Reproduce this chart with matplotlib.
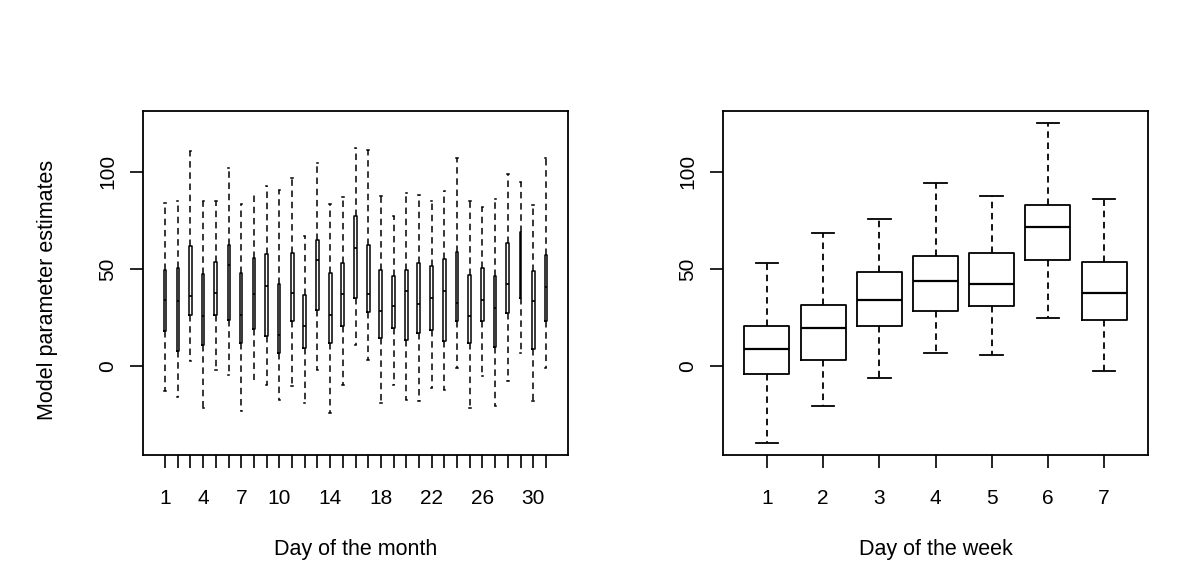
import matplotlib
matplotlib.use("Agg")
import matplotlib.pyplot as plt

plt.rcParams['font.family'] = ['Liberation Sans', 'DejaVu Sans']

# ---- Day of the month (31 groups) ----
month_days = list(range(1, 32))
month_labels = ["1", "", "", "4", "", "", "7", "", "", "10", "", "", "", "14", "", "", "",
                "18", "", "", "", "22", "", "", "", "26", "", "", "", "30", ""]
m_whishi = [84.1, 85.2, 110.8, 85.2, 85.2, 102.2, 83.3, 89.2, 92.6, 90.9,
            96.6, 67.0, 104.6, 83.3, 86.9, 112.3, 111.5, 87.6, 77.3, 89.2,
            88.0, 85.2, 90.3, 107.3, 85.2, 81.7, 85.8, 98.8, 94.9, 83.0, 107.3]
m_q3 = [49.6, 50.8, 61.9, 47.4, 53.9, 62.4, 48.2, 55.9, 57.6, 42.4,
        58.1, 36.7, 64.9, 48.2, 53.0, 77.3, 62.4, 49.6, 46.2, 49.6,
        53.3, 51.6, 55.0, 58.6, 47.2, 50.4, 46.2, 63.6, 69.2, 48.8, 57.3]
m_med = [34.2, 33.7, 36.2, 26.0, 37.9, 52.1, 26.5, 37.0, 41.4, 16.2,
         37.9, 20.9, 54.6, 26.5, 37.1, 61.0, 37.1, 28.5, 30.8, 38.5,
         32.0, 35.1, 38.5, 32.5, 25.8, 34.2, 30.0, 42.2, 50.0, 33.4, 41.0]
m_q1 = [18.3, 7.7, 26.5, 11.1, 26.5, 24.0, 11.9, 19.1, 15.4, 6.8,
        23.4, 9.4, 29.0, 11.9, 20.9, 35.1, 27.7, 14.5, 19.7, 13.7,
        17.1, 18.9, 12.8, 23.4, 11.9, 23.4, 9.9, 27.4, 35.1, 9.0, 23.4]
m_whislo = [-12.8, -15.7, 2.6, -21.4, -1.7, -4.3, -23.0, -6.9, -9.4, -17.1,
            -10.3, -18.9, -1.7, -23.9, -9.4, 11.2, 3.4, -18.9, -9.4, -17.1,
            -18.0, -11.1, -12.0, -0.8, -21.4, -5.1, -20.5, -7.7, 6.8, -18.0, -0.8]
m_width = [0.22, 0.19, 0.19, 0.19, 0.22, 0.16, 0.19, 0.13, 0.22, 0.16,
           0.24, 0.22, 0.22, 0.22, 0.22, 0.22, 0.24, 0.24, 0.24, 0.24,
           0.24, 0.24, 0.22, 0.22, 0.24, 0.22, 0.13, 0.22, 0.12, 0.24, 0.14]

# ---- Day of the week (7 groups) ----
week_days = list(range(1, 8))
week_labels = ["1", "2", "3", "4", "5", "6", "7"]
w_whishi = [53.3, 68.7, 75.7, 94.4, 87.5, 125.2, 85.8]
w_q3 = [20.5, 31.6, 48.7, 56.8, 58.5, 83.2, 53.9]
w_med = [8.9, 19.7, 34.2, 43.8, 42.1, 71.4, 37.6]
w_q1 = [-4.2, 3.4, 20.5, 28.4, 30.8, 54.7, 24.0]
w_whislo = [-39.3, -20.5, -6.0, 6.8, 6.0, 24.8, -2.5]

yticks = [0, 50, 100]

W, H = 1200, 567
fig = plt.figure(figsize=(W / 100, H / 100), dpi=100)
axL = fig.add_axes([143 / W, (H - 455) / H, 425 / W, 344 / H])
axR = fig.add_axes([723 / W, (H - 455) / H, 425 / W, 344 / H])


def stats(q1, med, q3, lo, hi):
    return [dict(q1=a, med=b, q3=c, whislo=d, whishi=e, fliers=[])
            for a, b, c, d, e in zip(q1, med, q3, lo, hi)]


def props(lw, medlw):
    return dict(showfliers=False, patch_artist=False,
                boxprops=dict(color="black", linewidth=lw),
                whiskerprops=dict(color="black", linewidth=lw,
                                  linestyle=(0, (3.6 * 1.3 / lw, 2.6 * 1.3 / lw))),
                capprops=dict(color="black", linewidth=lw),
                medianprops=dict(color="black", linewidth=medlw))


axL.bxp(stats(m_q1, m_med, m_q3, m_whislo, m_whishi), positions=month_days,
        widths=m_width, capwidths=[w * 0.5 for w in m_width], manage_ticks=False,
        **props(1.1, 1.25))
axR.bxp(stats(w_q1, w_med, w_q3, w_whislo, w_whishi), positions=week_days,
        widths=0.8, capwidths=0.4, manage_ticks=False, **props(1.3, 1.6))

axL.set_xlim(-0.74, 32.74)
axR.set_xlim(0.22, 7.78)
for ax in (axL, axR):
    ax.set_ylim(-45.6, 131.3)
    ax.set_yticks(yticks)
    ax.set_yticklabels([str(t) for t in yticks], rotation=90, va="center")
    ax.tick_params(axis="both", length=9.5, width=1.2, direction="out",
                   labelsize=15, colors="black")
    ax.tick_params(axis="y", pad=9)
    ax.tick_params(axis="x", pad=15)
    for s in ax.spines.values():
        s.set_linewidth(1.3)
        s.set_color("black")

axL.set_xticks(month_days)
axL.set_xticklabels(month_labels)
axR.set_xticks(week_days)
axR.set_xticklabels(week_labels)

fig.text(355.5 / W, 1 - 555 / H, "Day of the month", ha="center", va="baseline", fontsize=15.5)
fig.text(935.5 / W, 1 - 555 / H, "Day of the week", ha="center", va="baseline", fontsize=15.5)
fig.text(48 / W, 1 - 290 / H, "Model parameter estimates", ha="center", va="center",
         rotation=90, fontsize=15.5)

fig.savefig("out.png", dpi=100)
